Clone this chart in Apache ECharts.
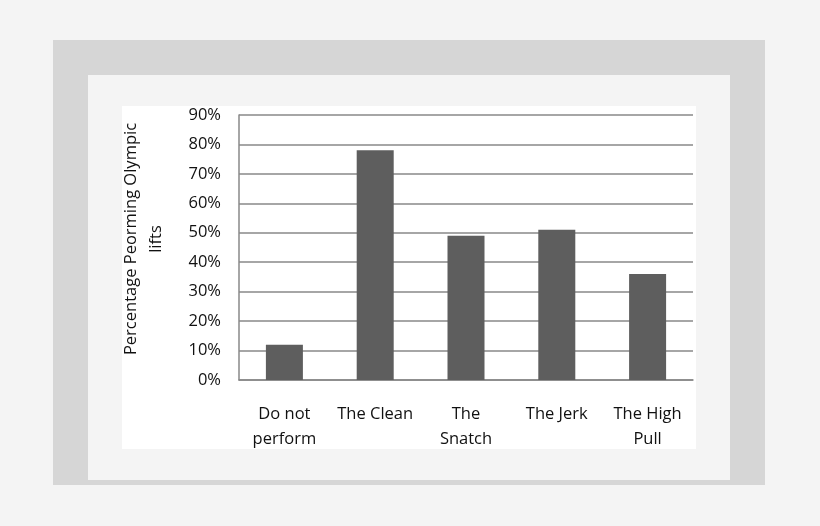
<!DOCTYPE html>
<html>
<head>
<meta charset="utf-8">
<script src="https://cdn.jsdelivr.net/npm/echarts@6/dist/echarts.min.js"></script>
<style>
  html, body { margin: 0; padding: 0; background: #f4f4f4; }
  #main { width: 820px; height: 526px; }
</style>
</head>
<body>
<div id="main"></div>
<script>
// data
var categories = ['Do not\nperform', 'The Clean', 'The\nSnatch', 'The Jerk', 'The High\nPull'];
var percentages = [12, 78, 49, 51, 36];
var yName = 'Percentage Peorming Olympic\nlifts';

var font = 'Open Sans';
var chart = echarts.init(document.getElementById('main'));

var option = {
    backgroundColor: '#f4f4f4',
    animation: false,
    graphic: [
        // outer grey frame
        { type: 'rect', z: -10, shape: { x: 53, y: 40, width: 712, height: 445 }, style: { fill: '#d6d6d6' } },
        // inner light panel
        { type: 'rect', z: -9, shape: { x: 88, y: 75, width: 642, height: 405 }, style: { fill: '#f4f4f4' } },
        // white chart area
        { type: 'rect', z: -8, shape: { x: 122, y: 106, width: 574, height: 343 }, style: { fill: '#ffffff' } },
        // axis title
        {
            type: 'text', z: 10, x: 144, y: 239, rotation: Math.PI / 2,
            style: {
                text: yName, font: '16.5px "' + font + '"', fill: '#111',
                align: 'center', verticalAlign: 'middle', lineHeight: 25
            }
        }
    ],
    grid: { left: 239, right: 127, top: 115, bottom: 146 },
    xAxis: {
        type: 'category',
        data: categories,
        axisLine: { show: true, lineStyle: { color: '#888', width: 1.5 } },
        axisTick: { show: false },
        axisLabel: {
            margin: 22, color: '#111', fontFamily: font, fontSize: 16.5, lineHeight: 25,
            interval: 0
        }
    },
    yAxis: {
        type: 'value',
        min: 0, max: 90, interval: 10,
        axisLine: { show: true, lineStyle: { color: '#888', width: 1.5 } },
        axisTick: { show: false },
        splitLine: { lineStyle: { color: '#888', width: 1.5 } },
        axisLabel: {
            formatter: '{value}%', margin: 18,
            color: '#111', fontFamily: font, fontSize: 16.5
        }
    },
    series: [{
        type: 'bar',
        data: percentages,
        barWidth: 37,
        itemStyle: { color: '#5e5e5e' }
    }]
};

chart.setOption(option);
</script>
</body>
</html>
